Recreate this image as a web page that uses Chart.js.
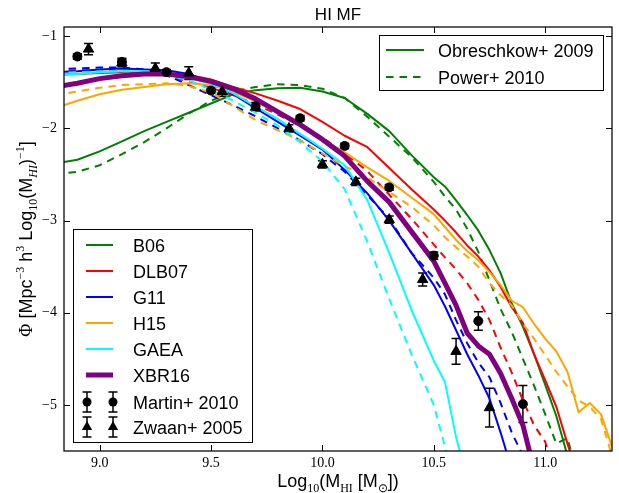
<!DOCTYPE html>
<html>
<head>
<meta charset="utf-8">
<script src="https://cdn.jsdelivr.net/npm/chart.js@4.4.0/dist/chart.umd.min.js"></script>
<style>
  html, body { margin: 0; padding: 0; background: #fff; }
</style>
</head>
<body>
<canvas id="himf" width="619" height="493"></canvas>
<script>
// log10 HI mass grid shared by all model curves
var logM = [8.8, 8.9, 9.0, 9.1, 9.2, 9.3, 9.4, 9.5, 9.6, 9.7, 9.8, 9.9, 10.0, 10.1, 10.2, 10.3, 10.4, 10.5,
            10.55, 10.6, 10.65, 10.7, 10.75, 10.8, 10.85, 10.9, 10.95, 11.0, 11.05, 11.1, 11.15, 11.2, 11.25, 11.3];

// solid = Obreschkow+ 2009 conversion, dashed = Power+ 2010
var b06Obr   = [-2.38, -2.34, -2.25, -2.14, -2.03, -1.93, -1.83, -1.73, -1.63, -1.585, -1.565, -1.56, -1.60, -1.67, -1.84, -2.03, -2.29, -2.53,
                -2.63, -2.78, -2.94, -3.11, -3.32, -3.57, -3.90, -4.15, -4.45, -4.78, -5.12, -5.55];
var b06Pow   = [-2.50, -2.47, -2.40, -2.28, -2.15, -2.00, -1.84, -1.70, -1.60, -1.55, -1.52, -1.53, -1.57, -1.67, -1.87, -2.09, -2.31, -2.58,
                -2.74, -2.88, -3.09, -3.34, -3.65, -3.96, -4.21, -4.50, -4.79, -5.10, -5.42, -5.36, -5.80];
var dlb07Obr = [-1.42, -1.41, -1.40, -1.39, -1.39, -1.40, -1.42, -1.47, -1.55, -1.62, -1.70, -1.79, -1.93, -2.08, -2.20, -2.43, -2.66, -2.88,
                -3.00, -3.13, -3.27, -3.39, -3.54, -3.72, -3.94, -4.11, -4.45, -4.73, -5.02, -5.42, -5.80];
var dlb07Pow = [-1.38, -1.37, -1.37, -1.38, -1.40, -1.43, -1.49, -1.56, -1.64, -1.74, -1.85, -1.97, -2.10, -2.27, -2.46, -2.72, -2.98, -3.26,
                -3.40, -3.53, -3.68, -3.86, -4.08, -4.38, -4.65, -4.95, -5.22, -5.40, -5.80];
var g11Obr   = [-1.39, -1.38, -1.36, -1.35, -1.36, -1.37, -1.41, -1.50, -1.63, -1.78, -1.93, -2.08, -2.23, -2.45, -2.70, -3.00, -3.35, -3.70,
                -3.93, -4.19, -4.45, -4.68, -4.93, -5.30, -5.70];
var g11Pow   = [-1.36, -1.35, -1.34, -1.34, -1.36, -1.42, -1.53, -1.64, -1.75, -1.87, -2.00, -2.13, -2.28, -2.47, -2.72, -2.98, -3.35, -3.62,
                -3.80, -4.08, -4.33, -4.54, -4.70, -4.98, -5.30, -5.55];
var h15Obr   = [-1.78, -1.70, -1.63, -1.58, -1.55, -1.52, -1.51, -1.53, -1.60, -1.71, -1.83, -1.95, -2.12, -2.26, -2.42, -2.57, -2.75, -2.93,
                -3.07, -3.21, -3.33, -3.43, -3.56, -3.70, -3.87, -3.94, -4.12, -4.28, -4.42, -4.64, -5.08, -4.98, -5.10, -5.45];
var h15Pow   = [-1.64, -1.60, -1.56, -1.53, -1.52, -1.51, -1.54, -1.61, -1.76, -1.91, -2.02, -2.13, -2.27, -2.41, -2.53, -2.69, -2.85, -3.05,
                -3.18, -3.29, -3.39, -3.50, -3.68, -3.81, -3.92, -4.12, -4.28, -4.46, -4.64, -4.80, -4.95, -5.02, -5.15, -5.55];
var gaeaObr  = [-1.42, -1.41, -1.39, -1.38, -1.38, -1.40, -1.44, -1.52, -1.62, -1.76, -1.90, -2.06, -2.22, -2.40, -2.77, -3.35, -3.97, -4.52,
                -4.75, -5.35, -5.80];
var gaeaPow  = [-1.40, -1.39, -1.38, -1.38, -1.39, -1.42, -1.48, -1.58, -1.70, -1.83, -1.97, -2.15, -2.36, -2.66, -3.22, -3.85, -4.45, -5.00,
                -5.45, -5.90];
var xbr16    = [-1.55, -1.51, -1.46, -1.43, -1.41, -1.41, -1.44, -1.49, -1.57, -1.68, -1.82, -1.96, -2.12, -2.30, -2.57, -2.80, -3.12, -3.44,
                -3.68, -3.92, -4.22, -4.36, -4.45, -4.66, -4.93, -5.22, -5.70];

// observations
var martinM   = [8.9, 9.1, 9.3, 9.5, 9.7, 9.9, 10.1, 10.3, 10.5, 10.7, 10.9];
var martinPhi = [-1.22, -1.28, -1.39, -1.59, -1.76, -1.89, -2.19, -2.64, -3.38, -4.09, -4.99];
var martinErr = [0.03, 0.04, 0.03, 0.03, 0.04, 0.03, 0.03, 0.03, 0.04, 0.10, 0.20];
var zwaanM    = [8.95, 9.10, 9.25, 9.40, 9.55, 9.70, 9.85, 10.0, 10.15, 10.30, 10.45, 10.60, 10.75];
var zwaanPhi  = [-1.14, -1.29, -1.35, -1.40, -1.60, -1.77, -2.00, -2.39, -2.58, -2.99, -3.64, -4.42, -5.03];
var zwaanErr  = [0.06, 0.04, 0.06, 0.07, 0.05, 0.04, 0.04, 0.04, 0.04, 0.04, 0.07, 0.14, 0.21];

var xTicks = [9.0, 9.5, 10.0, 10.5, 11.0];
var yTicks = [-5, -4, -3, -2, -1];

var GREEN = '#008000', RED = '#ff0000', BLUE = '#0000ff', ORANGE = '#ffa500', CYAN = '#00ffff', PURPLE = '#800080';
var DASH = [7.5, 6];
var SANS = '"Liberation Sans", Arial, sans-serif';
var SERIF = '"Liberation Serif", "Times New Roman", serif';

function curve(ys) {
    return logM.map(function (m, i) { return { x: m, y: (ys[i] === undefined ? null : ys[i]) }; });
}
function pts(xs, ys) {
    return xs.map(function (m, i) { return { x: m, y: ys[i] }; });
}
function lineSet(label, ys, color, dashed, width, order) {
    return {
        label: label, data: curve(ys), borderColor: color, backgroundColor: color,
        borderWidth: width, borderDash: dashed ? DASH : [], pointRadius: 0, tension: 0,
        borderJoinStyle: 'round', spanGaps: false, order: order
    };
}

var datasets = [
    { label: 'Martin+ 2010', data: pts(martinM, martinPhi), showLine: false, pointStyle: 'circle',
      pointRadius: 4.5, backgroundColor: '#000', borderColor: '#000', borderWidth: 1, order: 0, err: martinErr },
    { label: 'Zwaan+ 2005', data: pts(zwaanM, zwaanPhi), showLine: false, pointStyle: 'triangle',
      pointRadius: 6, backgroundColor: '#000', borderColor: '#000', borderWidth: 1, order: 0, err: zwaanErr },
    lineSet('XBR16', xbr16, PURPLE, false, 5, 1),
    lineSet('GAEA', gaeaObr, CYAN, false, 2, 2),
    lineSet('GAEA P10', gaeaPow, CYAN, true, 2, 3),
    lineSet('H15', h15Obr, ORANGE, false, 2, 4),
    lineSet('H15 P10', h15Pow, ORANGE, true, 2, 5),
    lineSet('G11', g11Obr, BLUE, false, 2, 6),
    lineSet('G11 P10', g11Pow, BLUE, true, 2, 7),
    lineSet('DLB07', dlb07Obr, RED, false, 2, 8),
    lineSet('DLB07 P10', dlb07Pow, RED, true, 2, 9),
    lineSet('B06', b06Obr, GREEN, false, 2, 10),
    lineSet('B06 P10', b06Pow, GREEN, true, 2, 11)
];

function richText(ctx, parts, cx, cy, angle) {
    ctx.save();
    ctx.translate(cx, cy);
    ctx.rotate(angle);
    var w = 0;
    parts.forEach(function (p) { ctx.font = p[1]; w += ctx.measureText(p[0]).width; });
    var xx = -w / 2;
    ctx.textBaseline = 'alphabetic';
    ctx.textAlign = 'left';
    ctx.fillStyle = '#000';
    parts.forEach(function (p) {
        ctx.font = p[1];
        ctx.fillText(p[0], xx, p[2]);
        xx += ctx.measureText(p[0]).width;
    });
    ctx.restore();
}

function errBar(ctx, x, y0, y1, cap) {
    ctx.beginPath();
    ctx.moveTo(x, y0); ctx.lineTo(x, y1);
    ctx.moveTo(x - cap, y0); ctx.lineTo(x + cap, y0);
    ctx.moveTo(x - cap, y1); ctx.lineTo(x + cap, y1);
    ctx.stroke();
}

function marker(ctx, style, x, y, r) {
    ctx.beginPath();
    if (style === 'circle') {
        ctx.arc(x, y, r, 0, Math.PI * 2);
    } else {
        ctx.moveTo(x, y - r);
        ctx.lineTo(x + r * 0.866, y + r * 0.5);
        ctx.lineTo(x - r * 0.866, y + r * 0.5);
        ctx.closePath();
    }
    ctx.fill();
}

// error bars for the observational points, drawn through the scales
var errorBars = {
    id: 'errorBars',
    beforeDatasetsDraw: function (chart) {
        var ctx = chart.ctx, a = chart.chartArea, xs = chart.scales.x, ys = chart.scales.y;
        ctx.save();
        ctx.beginPath();
        ctx.rect(a.left, a.top, a.right - a.left, a.bottom - a.top);
        ctx.clip();
        ctx.strokeStyle = '#000';
        ctx.lineWidth = 1.5;
        chart.data.datasets.forEach(function (ds) {
            if (!ds.err) return;
            ds.data.forEach(function (p, i) {
                var px = xs.getPixelForValue(p.x);
                errBar(ctx, px, ys.getPixelForValue(p.y + ds.err[i]), ys.getPixelForValue(p.y - ds.err[i]), 4.5);
            });
        });
        ctx.restore();
    }
};

// frame, inward ticks, title, axis labels and the two legends
var decor = {
    id: 'decor',
    afterDraw: function (chart) {
        var ctx = chart.ctx, a = chart.chartArea, xs = chart.scales.x, ys = chart.scales.y;
        ctx.save();
        ctx.strokeStyle = '#000';
        ctx.lineWidth = 1.25;
        ctx.strokeRect(a.left, a.top, a.right - a.left, a.bottom - a.top);
        ctx.lineWidth = 1;
        ctx.beginPath();
        xTicks.forEach(function (v) {
            var px = Math.round(xs.getPixelForValue(v)) + 0.5;
            ctx.moveTo(px, a.bottom); ctx.lineTo(px, a.bottom - 6);
            ctx.moveTo(px, a.top); ctx.lineTo(px, a.top + 6);
        });
        yTicks.forEach(function (v) {
            var py = Math.round(ys.getPixelForValue(v)) + 0.5;
            ctx.moveTo(a.left, py); ctx.lineTo(a.left + 6, py);
            ctx.moveTo(a.right, py); ctx.lineTo(a.right - 6, py);
        });
        ctx.stroke();

        ctx.fillStyle = '#000';
        ctx.font = '17px ' + SANS;
        ctx.textAlign = 'center';
        ctx.textBaseline = 'alphabetic';
        ctx.fillText('HI MF', (a.left + a.right) / 2, 20);

        var big = '18px ' + SANS, sub = '12px ' + SERIF, subI = 'italic 12px ' + SERIF;
        richText(ctx, [['Log', big, 0], ['10', sub, 5], ['(M', big, 0], ['HI', sub, 5],
                       [' [M', big, 0], ['\u2299', sub, 5], ['])', big, 0]],
                 (a.left + a.right) / 2, 487, 0);
        richText(ctx, [['\u03A6', '18px ' + SERIF, 0], [' [Mpc', big, 0], ['\u22123', sub, -8], [' h', big, 0],
                       ['3', sub, -8], [' Log', big, 0], ['10', sub, 5], ['(M', big, 0], ['HI', subI, 5],
                       [')', big, 0], ['\u22121', sub, -8], [']', big, 0]],
                 32, (a.top + a.bottom) / 2, -Math.PI / 2);

        // upper-right legend: conversion method
        ctx.fillStyle = '#fff';
        ctx.fillRect(379, 35, 224, 55);
        ctx.strokeStyle = '#000';
        ctx.lineWidth = 1;
        ctx.strokeRect(379.5, 35.5, 224, 55);
        var methods = [['Obreschkow+ 2009', []], ['Power+ 2010', DASH]];
        methods.forEach(function (m, i) {
            var ly = 50 + i * 27;
            ctx.strokeStyle = GREEN;
            ctx.lineWidth = 2;
            ctx.setLineDash(m[1]);
            ctx.beginPath(); ctx.moveTo(386, ly); ctx.lineTo(424, ly); ctx.stroke();
            ctx.setLineDash([]);
            ctx.fillStyle = '#000';
            ctx.font = big;
            ctx.textAlign = 'left';
            ctx.fillText(m[0], 438, ly + 7);
        });

        // lower-left legend: models and observations
        ctx.fillStyle = '#fff';
        ctx.fillRect(73, 229, 179, 213);
        ctx.strokeStyle = '#000';
        ctx.lineWidth = 1;
        ctx.strokeRect(73.5, 229.5, 179, 213);
        var models = [['B06', GREEN, 2], ['DLB07', RED, 2], ['G11', BLUE, 2], ['H15', ORANGE, 2],
                      ['GAEA', CYAN, 2], ['XBR16', PURPLE, 5]];
        models.forEach(function (m, i) {
            var ly = 245 + i * 26;
            ctx.strokeStyle = m[1];
            ctx.lineWidth = m[2];
            ctx.beginPath(); ctx.moveTo(86, ly); ctx.lineTo(113, ly); ctx.stroke();
            ctx.fillStyle = '#000';
            ctx.font = big;
            ctx.fillText(m[0], 133, ly + 7);
        });
        var obs = [['Martin+ 2010', 'circle', 4.5, 402], ['Zwaan+ 2005', 'triangle', 6, 427]];
        obs.forEach(function (o) {
            ctx.strokeStyle = '#000';
            ctx.fillStyle = '#000';
            ctx.lineWidth = 1.5;
            [87, 113].forEach(function (mx) {
                errBar(ctx, mx, o[3] - 10, o[3] + 10, 4.5);
                marker(ctx, o[1], mx, o[3], o[2]);
            });
            ctx.font = big;
            ctx.fillText(o[0], 133, o[3] + 7);
        });
        ctx.restore();
    }
};

new Chart(document.getElementById('himf'), {
    type: 'line',
    data: { datasets: datasets },
    options: {
        responsive: false,
        devicePixelRatio: 1,
        animation: false,
        events: [],
        layout: { padding: { top: 27, right: 7, left: 0, bottom: 0 } },
        plugins: { legend: { display: false }, title: { display: false }, tooltip: { enabled: false } },
        scales: {
            x: {
                type: 'linear', min: 8.84, max: 11.3,
                afterFit: function (s) { s.height = 42; },
                afterBuildTicks: function (s) { s.ticks = xTicks.map(function (v) { return { value: v }; }); },
                grid: { display: false, drawTicks: false },
                border: { display: false },
                ticks: {
                    padding: 4, color: '#000', maxRotation: 0,
                    font: { family: SERIF, size: 14 },
                    callback: function (v) { return v.toFixed(1); }
                }
            },
            y: {
                type: 'linear', min: -5.5, max: -0.9,
                afterFit: function (s) { s.width = 64; },
                afterBuildTicks: function (s) { s.ticks = yTicks.map(function (v) { return { value: v }; }); },
                grid: { display: false, drawTicks: false },
                border: { display: false },
                ticks: {
                    padding: 7, color: '#000',
                    font: { family: SERIF, size: 14 },
                    callback: function (v) { return '\u2212' + Math.abs(v); }
                }
            }
        }
    },
    plugins: [errorBars, decor]
});
</script>
</body>
</html>
